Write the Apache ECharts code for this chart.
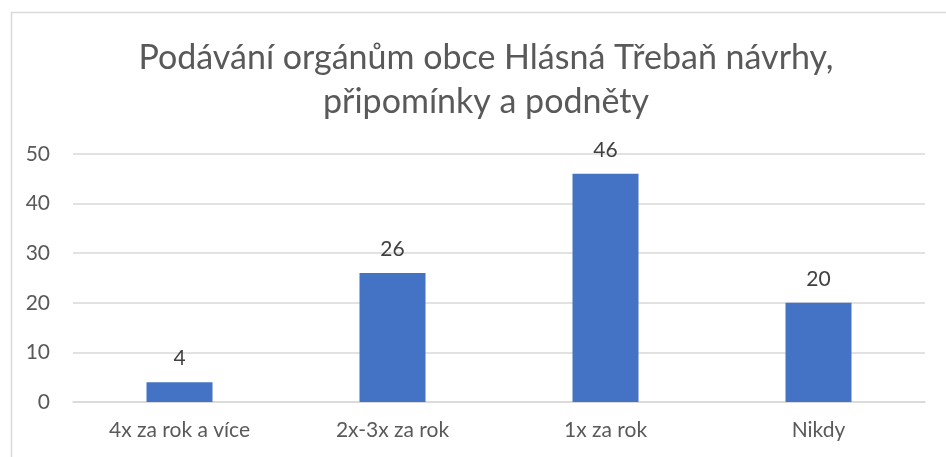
<!DOCTYPE html>
<html><head><meta charset="utf-8">
<script src="https://cdn.jsdelivr.net/npm/echarts@6/dist/echarts.min.js"></script>
<style>html,body{margin:0;padding:0;background:#fff}#c{width:946px;height:457px}</style>
</head><body><div id="c"></div>
<script>
const titleText = 'Podávání orgánům obce Hlásná Třebaň návrhy,\npřipomínky a podněty';
const categories = ['4x za rok a více', '2x-3x za rok', '1x za rok', 'Nikdy'];
const values = [4, 26, 46, 20];
const yTicks = [0, 10, 20, 30, 40, 50];

const FONT = 'Lato, "Open Sans", sans-serif';
const chart = echarts.init(document.getElementById('c'), null, {renderer: 'canvas'});
chart.setOption({
  animation: false,
  backgroundColor: '#fff',
  graphic: [{
    type: 'rect', left: 9, top: 10, silent: true,
    shape: {width: 960, height: 470},
    style: {fill: 'none', stroke: '#d9d9d9', lineWidth: 1.5}
  }],
  title: {
    text: titleText,
    left: 481, top: 31, textAlign: 'center',
    textStyle: {fontFamily: FONT, fontSize: 34, fontWeight: 'normal', color: '#595959', lineHeight: 44}
  },
  grid: {left: 73, right: 21, top: 154, bottom: 55, containLabel: false},
  xAxis: {
    type: 'category', data: categories,
    axisLine: {show: true, lineStyle: {color: '#d9d9d9', width: 1.5}},
    axisTick: {show: false},
    axisLabel: {fontFamily: FONT, fontSize: 21, color: '#595959', margin: 18}
  },
  yAxis: {
    type: 'value', min: yTicks[0], max: yTicks[yTicks.length - 1], interval: 10,
    axisLine: {show: false}, axisTick: {show: false},
    splitLine: {lineStyle: {color: '#d9d9d9', width: 1.5}},
    axisLabel: {fontFamily: FONT, fontSize: 21, color: '#595959', margin: 23}
  },
  series: [{
    type: 'bar', data: values, barWidth: 66,
    itemStyle: {color: '#4472c4'},
    label: {show: true, position: 'top', distance: 13, fontFamily: FONT, fontSize: 21, color: '#404040'}
  }]
});
</script></body></html>
